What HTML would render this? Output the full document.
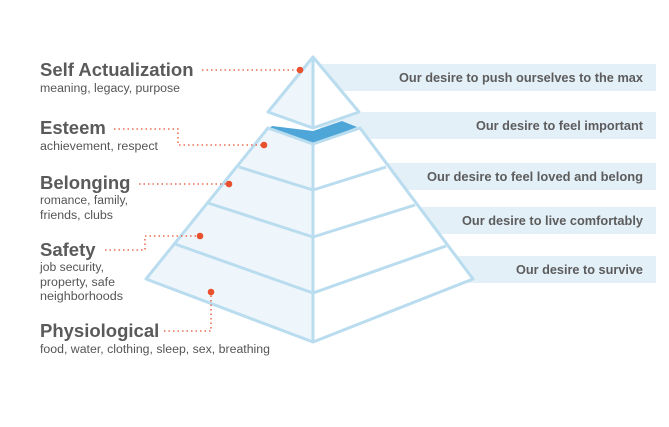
<!DOCTYPE html>
<html><head><style>
body{margin:0;background:#fff;width:669px;height:422px;overflow:hidden;font-family:"Liberation Sans",sans-serif}
</style></head><body>
<svg width="669" height="422" viewBox="0 0 669 422" xmlns="http://www.w3.org/2000/svg">
<g fill="#e3f0f8">
<rect x="320" y="64" width="336" height="27"/>
<rect x="320" y="112" width="336" height="27"/>
<rect x="370" y="163" width="286" height="27"/>
<rect x="400" y="207" width="256" height="27"/>
<rect x="430" y="256" width="226" height="27"/>
</g>
<g font-size="12.5" fill="#5c5c5c" text-anchor="end" font-weight="bold">
<text x="643" y="82" textLength="244" lengthAdjust="spacingAndGlyphs">Our desire to push ourselves to the max</text>
<text x="643" y="130" textLength="167" lengthAdjust="spacingAndGlyphs">Our desire to feel important</text>
<text x="643" y="181" textLength="216" lengthAdjust="spacingAndGlyphs">Our desire to feel loved and belong</text>
<text x="643" y="225" textLength="181" lengthAdjust="spacingAndGlyphs">Our desire to live comfortably</text>
<text x="643" y="274" textLength="127" lengthAdjust="spacingAndGlyphs">Our desire to survive</text>
</g>
<!-- main pyramid -->
<polygon points="268,128 313,143 313,342 146,279" fill="#eef6fb"/>
<polygon points="360,128 313,143 313,342 473,279" fill="#fff"/>
<polygon points="272,126 313,131 342,121 357,127 313,144 268,129" fill="#4ea6d8"/>
<g fill="none" stroke="#b9dcef" stroke-width="3" stroke-linejoin="round">
<polygon points="268,128 313,144 360,128 473,279 313,342 146,279"/>
<polyline points="239,167 313,190 386,167"/>
<polyline points="208,203 313,237 415,205"/>
<polyline points="175,244 313,293 446,246"/>
<line x1="313" y1="144" x2="313" y2="342"/>
</g>
<!-- top triangle -->
<polygon points="313,57 268,112 313,128" fill="#eef6fb"/>
<polygon points="313,57 359,112 313,128" fill="#fff"/>
<g fill="none" stroke="#b9dcef" stroke-width="3" stroke-linejoin="round">
<polygon points="313,57 359,112 313,128 268,112"/>
<line x1="313" y1="57" x2="313" y2="128"/>
</g>
<!-- connectors -->
<g fill="none" stroke="#e8502e" stroke-width="1.3" stroke-dasharray="1.5,3">
<polyline points="202,70 298,70"/>
<polyline points="114,129 178,129 178,145 264,145"/>
<polyline points="139,184 229,184"/>
<polyline points="105,250 145,250 145,236 200,236"/>
<polyline points="164,331 211,331 211,292"/>
</g>
<g fill="#e8502e">
<circle cx="300" cy="70" r="3.3"/>
<circle cx="264" cy="145" r="3.3"/>
<circle cx="229" cy="184" r="3.3"/>
<circle cx="200" cy="236" r="3.3"/>
<circle cx="211" cy="292" r="3.3"/>
</g>
<g fill="#555" font-size="11.5">
<text x="40" y="76" font-size="18.5" font-weight="bold" fill="#5a5a5a">Self Actualization</text>
<text x="40" y="92" textLength="140" lengthAdjust="spacingAndGlyphs">meaning, legacy, purpose</text>
<text x="40" y="134" font-size="18.5" font-weight="bold" fill="#5a5a5a">Esteem</text>
<text x="40" y="150" textLength="118" lengthAdjust="spacingAndGlyphs">achievement, respect</text>
<text x="40" y="189" font-size="18.5" font-weight="bold" fill="#5a5a5a">Belonging</text>
<text x="40" y="204" textLength="88" lengthAdjust="spacingAndGlyphs">romance, family,</text>
<text x="40" y="219" textLength="73" lengthAdjust="spacingAndGlyphs">friends, clubs</text>
<text x="40" y="256" font-size="18.5" font-weight="bold" fill="#5a5a5a">Safety</text>
<text x="40" y="271" textLength="64" lengthAdjust="spacingAndGlyphs">job security,</text>
<text x="40" y="286" textLength="75" lengthAdjust="spacingAndGlyphs">property, safe</text>
<text x="40" y="300" textLength="83" lengthAdjust="spacingAndGlyphs">neighborhoods</text>
<text x="40" y="337" font-size="18.5" font-weight="bold" fill="#5a5a5a">Physiological</text>
<text x="40" y="353" textLength="230" lengthAdjust="spacingAndGlyphs">food, water, clothing, sleep, sex, breathing</text>
</g>
</svg>
</body></html>
